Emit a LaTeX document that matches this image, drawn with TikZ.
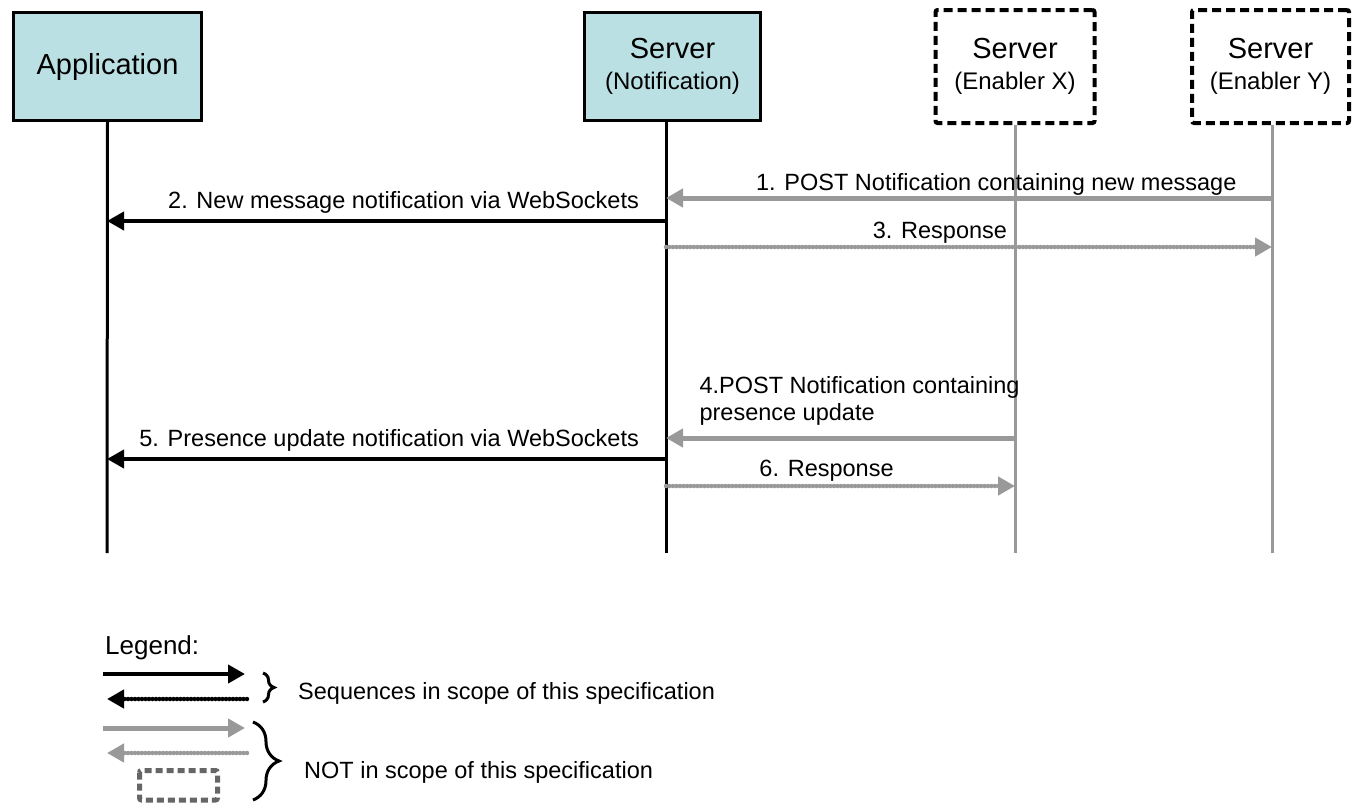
\documentclass[tikz,border=0pt]{standalone}
\usepackage{fontspec}
\setmainfont{Liberation Sans}
\usetikzlibrary{arrows.meta,decorations.pathreplacing}

\definecolor{boxfill}{RGB}{186,224,227}
\definecolor{outgray}{RGB}{153,153,153}
\definecolor{legendgray}{RGB}{102,102,102}

\begin{document}
\begin{tikzpicture}[x=1pt,y=-1pt,
  inscope/.style={draw=black,line width=3pt,fill=boxfill,minimum height=108pt,
    align=center,font=\fontsize{29}{31}\selectfont},
  outscope/.style={draw=black,line width=4pt,dash pattern=on 9pt off 5pt,
    rounded corners=2pt,minimum width=159pt,minimum height=113pt,
    align=center,font=\fontsize{29}{31}\selectfont},
  life/.style={line width=3pt},
  graylife/.style={line width=3pt,draw=outgray},
  msg/.style={line width=4pt,-{Triangle[length=17pt,width=18pt]}},
  graymsg/.style={msg,line width=5pt,draw=outgray,fill=outgray},
  dots/.style={line width=4.5pt,line cap=round,dash pattern=on 0pt off 3.5pt},
  lbl/.style={font=\fontsize{23.5}{27}\selectfont,inner sep=0pt}]
\useasboundingbox (0,0) rectangle (1362,804);

% participants
\node[inscope,minimum width=188pt] (app) at (107.5,66.5) {Application};
\node[inscope,minimum width=176pt] (srvN) at (672.5,66.5)
  {Server\\{\fontsize{24}{31}\selectfont (Notification)}};
\node[outscope] (srvX) at (1015,66.5)
  {Server\\{\fontsize{24}{31}\selectfont (Enabler X)}};
\node[outscope,minimum width=157pt] (srvY) at (1270.5,66.5)
  {Server\\{\fontsize{24}{31}\selectfont (Enabler Y)}};

% lifelines
\coordinate (appL) at (107,553);
\coordinate (srvNL) at (666,553);
\coordinate (srvXL) at (1015,553);
\coordinate (srvYL) at (1272,553);
\draw[life] (app.south) -- (appL);
\draw[life] ([xshift=-6.5pt]srvN.south) -- (srvNL);
\draw[graylife] (srvX.south) -- (srvXL);
\draw[graylife] (srvY.south -| srvYL) -- (srvYL);

% message rows
\coordinate (m1) at (0,198);
\coordinate (m2) at (0,221);
\coordinate (m3) at (0,247);
\coordinate (m4) at (0,438);
\coordinate (m5) at (0,459);
\coordinate (m6) at (0,486);

\draw[graymsg] (srvYL |- m1) -- (srvNL |- m1)
  node[lbl,pos=0.455,anchor=base,yshift=8pt] {1. POST Notification containing new message};
\draw[msg] (srvNL |- m2) -- (appL |- m2)
  node[lbl,pos=0.045,anchor=base east,yshift=13pt] {2. New message notification via WebSockets};
\draw[graymsg,dots] (srvNL |- m3) -- (srvYL |- m3)
  node[lbl,pos=0.452,anchor=base,yshift=9pt] {3. Response};
\draw[graymsg] (srvXL |- m4) -- (srvNL |- m4)
  node[lbl,pos=0.911,anchor=south west,align=left,yshift=10pt] {4.POST Notification containing\\presence update};
\draw[msg] (srvNL |- m5) -- (appL |- m5)
  node[lbl,pos=0.045,anchor=base east,yshift=13pt] {5. Presence update notification via WebSockets};
\draw[graymsg,dots] (srvNL |- m6) -- (srvXL |- m6)
  node[lbl,pos=0.46,anchor=base,yshift=10pt] {6. Response};

% legend
\node[lbl,anchor=west,font=\fontsize{26}{28}\selectfont] (legend) at (105,648) {Legend:};
\coordinate (k1a) at (103,674); \coordinate (k1b) at (245,674);
\coordinate (k2a) at (247,699); \coordinate (k2b) at (107,699);
\coordinate (k3a) at (103,728); \coordinate (k3b) at (245,728);
\coordinate (k4a) at (247,753); \coordinate (k4b) at (107,753);
\draw[msg] (k1a) -- (k1b);
\draw[msg,dots] (k2a) -- (k2b);
\draw[graymsg] (k3a) -- (k3b);
\draw[graymsg,dots] (k4a) -- (k4b);
\draw[legendgray,line width=5pt,dash pattern=on 7pt off 4pt,rounded corners=2pt]
  (139.5,770.5) rectangle (217.5,800);
\draw[line width=3pt,decorate,decoration={brace,amplitude=11pt}] (263,673) -- (263,702);
\draw[line width=3pt,decorate,decoration={brace,amplitude=26pt}] (253,722) -- (253,800);
\node[lbl,anchor=west] (inscopeTxt) at (298,693) {Sequences in scope of this specification};
\node[lbl,anchor=west] (outscopeTxt) at (304,772) {NOT in scope of this specification};
\end{tikzpicture}
\end{document}
